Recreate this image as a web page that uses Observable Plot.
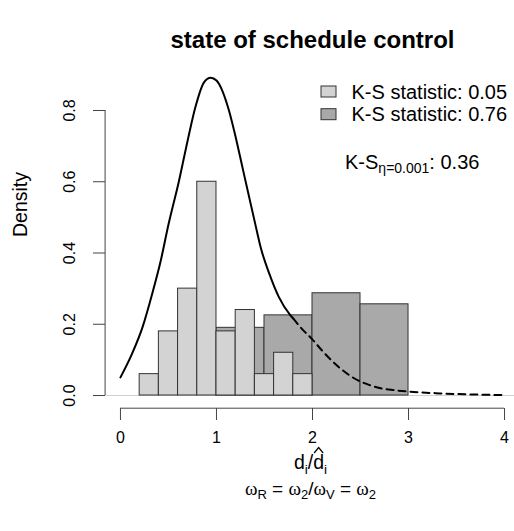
<!DOCTYPE html>
<html>
<head>
<meta charset="utf-8">
<script src="https://cdn.jsdelivr.net/npm/d3@7"></script>
<script src="https://cdn.jsdelivr.net/npm/@observablehq/plot@0.6"></script>
<style>
  html, body { margin: 0; padding: 0; background: #fff; }
  #chart { width: 514px; height: 531px; }
</style>
</head>
<body>
<div id="chart"></div>
<script>
// ---------- data ----------
const lightBinStart = [0.2, 0.4, 0.6, 0.8, 1.0, 1.2, 1.4, 1.6, 1.8];
const lightBinEnd   = [0.4, 0.6, 0.8, 1.0, 1.2, 1.4, 1.6, 1.8, 2.0];
const lightDensity  = [0.06, 0.18, 0.30, 0.60, 0.18, 0.24, 0.06, 0.12, 0.06];

const darkBinStart = [1.0, 1.5, 2.0, 2.5];
const darkBinEnd   = [1.5, 2.0, 2.5, 3.0];
const darkDensity  = [0.19, 0.225, 0.287, 0.256];

const curveX = [0, 0.12, 0.23, 0.33, 0.42, 0.5, 0.61, 0.7, 0.78, 0.87, 0.94, 1.0, 1.06, 1.13, 1.2, 1.27, 1.34, 1.41, 1.46, 1.55, 1.65, 1.77, 1.8,
                1.88, 2.0, 2.1, 2.2, 2.3, 2.4, 2.5, 2.6, 2.7, 2.85, 3.0, 3.33, 3.66, 4.0];
const curveY = [0.051, 0.117, 0.192, 0.285, 0.379, 0.48, 0.603, 0.716, 0.809, 0.879, 0.892, 0.884, 0.856, 0.80, 0.725, 0.641, 0.557, 0.474, 0.416, 0.342, 0.276, 0.225, 0.216,
                0.19, 0.157, 0.126, 0.098, 0.074, 0.054, 0.039, 0.029, 0.021, 0.015, 0.011, 0.006, 0.003, 0.001];
const solidUntil = 1.8;

const xTicks = [0, 1, 2, 3, 4];
const yTicks = [0, 0.2, 0.4, 0.6, 0.8];
const xDomain = [-0.16, 4.16];
const yDomain = [-0.0356, 0.926];

const titleText = "state of schedule control";
const yLabel = "Density";
const legendLabels = ["K-S statistic: 0.05", "K-S statistic: 0.76"];
const legendFills = ["#d3d3d3", "#a9a9a9"];

// ---------- tables ----------
const light = lightBinStart.map((s, i) => ({x1: s, x2: lightBinEnd[i], y: lightDensity[i]}));
const dark = darkBinStart.map((s, i) => ({x1: s, x2: darkBinEnd[i], y: darkDensity[i]}));
const curve = curveX.map((x, i) => ({x, y: curveY[i]}));
const solid = curve.filter(d => d.x <= solidUntil);
const dashed = curve.filter(d => d.x >= solidUntil);

// ---------- rich text helper (subscripts etc.) ----------
function rich(segs, {anchor, dx = 0, dy = 0, size = 16, textAnchor = "middle", cls = ""}) {
  return (index, scales, values, dims) => {
    const {width, height, marginLeft, marginRight, marginTop, marginBottom} = dims;
    const x = anchor.includes("left") ? marginLeft : anchor.includes("right") ? width - marginRight : (marginLeft + width - marginRight) / 2;
    const y = anchor.includes("top") ? marginTop : anchor.includes("bottom") ? height - marginBottom : (marginTop + height - marginBottom) / 2;
    const text = d3.create("svg:text")
      .attr("class", cls)
      .attr("x", x + dx).attr("y", y + dy)
      .attr("text-anchor", textAnchor)
      .attr("font-size", size)
      .attr("fill", "#000")
      .style("white-space", "pre");
    let base = 0;
    for (const s of segs) {
      const target = s.shift ?? 0;
      const ts = text.append("tspan").text(s.t).attr("dy", target - base);
      base = target;
      if (s.size) ts.attr("font-size", s.size);
      if (s.family) ts.attr("font-family", s.family);
    }
    return text.node();
  };
}

const serif = "Liberation Serif, DejaVu Serif, serif";
// x label: d_i / hat(d)_i  (the hat is drawn as a small chevron over the 4th character)
const xLabelSegs = [
  {t: "d"}, {t: "i", shift: 5, size: 13.5}, {t: "/"}, {t: "d"}, {t: "i", shift: 5, size: 13.5}
];
const hatCharIndex = 3;
const subLabelSegs = [
  {t: "\u03C9", family: serif}, {t: "R", shift: 4, size: 13}, {t: " = "},
  {t: "\u03C9", family: serif}, {t: "2", shift: 4, size: 13}, {t: "/"},
  {t: "\u03C9", family: serif}, {t: "V", shift: 4, size: 13}, {t: " = "},
  {t: "\u03C9", family: serif}, {t: "2", shift: 4, size: 13}
];
const ksSegs = [{t: "K-S"}, {t: "\u03B7=0.001", shift: 4, size: 14}, {t: ": 0.36"}];

function legendBoxes(index, scales, values, dims) {
  const g = d3.create("svg:g");
  legendFills.forEach((c, i) => {
    g.append("rect")
      .attr("x", dims.marginLeft + 216).attr("y", dims.marginTop + 21 + i * 22.7)
      .attr("width", 15).attr("height", 11)
      .attr("fill", c).attr("stroke", "#333").attr("stroke-width", 1);
  });
  return g.node();
}

const plot = Plot.plot({
  width: 514,
  height: 531,
  marginTop: 65,
  marginBottom: 123,
  marginLeft: 105,
  marginRight: 0,
  style: {fontFamily: "Liberation Sans, Arial, Helvetica, sans-serif", fontSize: "16px", background: "#fff", color: "#000"},
  x: {domain: xDomain, range: [104.6, 519.4], axis: null},
  y: {domain: yDomain, range: [407.7, 65.1], axis: null},
  marks: [
    Plot.ruleY([0], {stroke: "#cfcfcf", strokeWidth: 1}),
    Plot.rect(dark, {x1: "x1", x2: "x2", y1: 0, y2: "y", fill: legendFills[1], stroke: "#333", strokeWidth: 1}),
    Plot.rect(light, {x1: "x1", x2: "x2", y1: 0, y2: "y", fill: legendFills[0], stroke: "#333", strokeWidth: 1}),
    Plot.line(solid, {x: "x", y: "y", stroke: "#000", strokeWidth: 2, curve: "monotone-x"}),
    Plot.line(dashed, {x: "x", y: "y", stroke: "#000", strokeWidth: 2, strokeDasharray: "7,5", curve: "monotone-x"}),
    // axes
    Plot.ruleX([xDomain[0]], {y1: yTicks[0], y2: yTicks[yTicks.length - 1], stroke: "#444"}),
    Plot.ruleY([yDomain[0]], {x1: xTicks[0], x2: xTicks[xTicks.length - 1], stroke: "#444"}),
    Plot.axisX(xTicks, {anchor: "bottom", tickSize: 12, tickPadding: 11, fontSize: 16, label: null, tickFormat: d => String(d), stroke: "#444"}),
    Plot.axisY(yTicks, {anchor: "left", tickSize: 12, tickRotate: -90, tickPadding: 19, fontSize: 16, label: null, tickFormat: d => d.toFixed(1), stroke: "#444"}),
    Plot.text([yLabel], {frameAnchor: "left", dx: -84.3, rotate: -90, fontSize: 19.5}),
    Plot.text([titleText], {frameAnchor: "top", dx: 2.5, dy: -18, lineAnchor: "bottom", fontSize: 24, fontWeight: "bold"}),
    // legend
    legendBoxes,
    Plot.text([legendLabels[0]], {frameAnchor: "top-left", dx: 246, dy: 33, textAnchor: "start", lineAnchor: "bottom", fontSize: 20}),
    Plot.text([legendLabels[1]], {frameAnchor: "top-left", dx: 246, dy: 55.7, textAnchor: "start", lineAnchor: "bottom", fontSize: 20}),
    rich(ksSegs, {anchor: "top-left", dx: 240, dy: 104, size: 20, textAnchor: "start"}),
    // x label and sub label
    rich(xLabelSegs, {anchor: "bottom", dx: 1, dy: 61, size: 19.5, cls: "xlab"}),
    rich(subLabelSegs, {anchor: "bottom", dx: 1, dy: 87, size: 19})
  ]
});
document.getElementById("chart").appendChild(plot);

// draw the hat over the second "d" of the x label
const xl = plot.querySelector("text.xlab");
if (xl) {
  const ext = xl.getExtentOfChar(hatCharIndex);
  const by = +xl.getAttribute("y");
  const cx = ext.x + ext.width / 2;
  d3.select(plot).append("path")
    .attr("d", `M${cx - 4.5},${by - 16} L${cx},${by - 21.5} L${cx + 4.5},${by - 16}`)
    .attr("fill", "none").attr("stroke", "#000").attr("stroke-width", 1.2);
}
</script>
</body>
</html>
